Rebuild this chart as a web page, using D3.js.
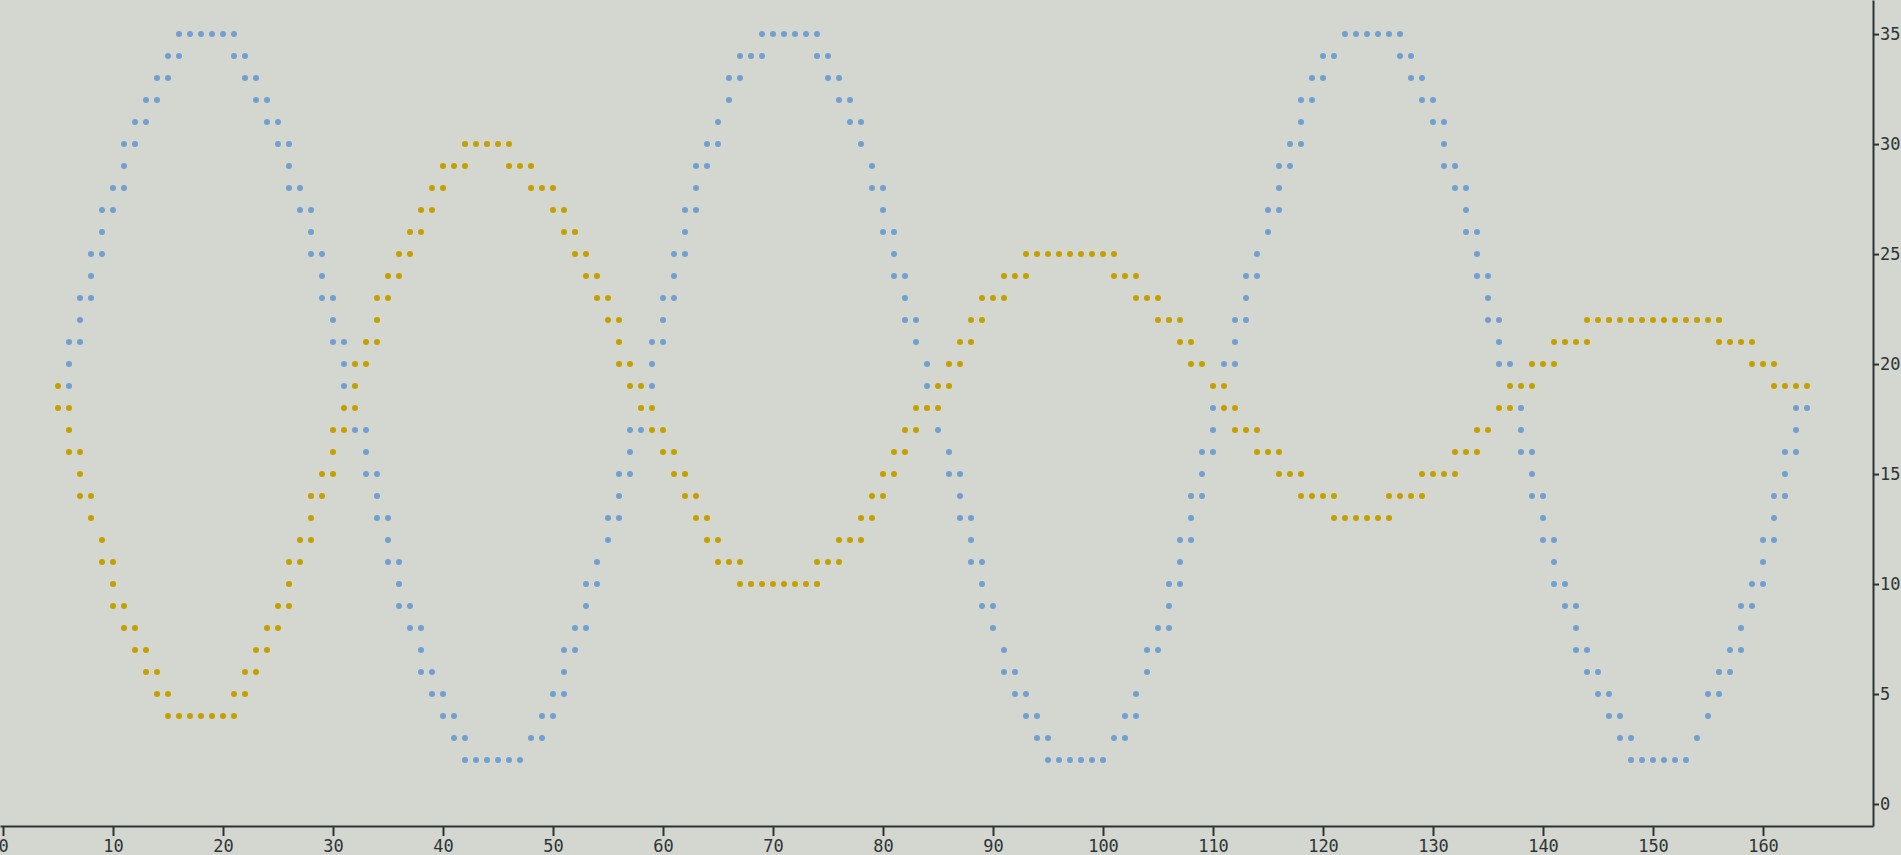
<!DOCTYPE html>
<html>
<head>
<meta charset="utf-8">
<script src="https://cdn.jsdelivr.net/npm/d3@7"></script>
<style>
  html, body { margin: 0; padding: 0; background: #d3d7cf; overflow: hidden; }
  svg { display: block; }
</style>
</head>
<body>
<svg id="chart" width="1901" height="855"></svg>
<script>
// Each entry: [x, [y values of the dots in that column]]
const blueSeries = [
  [6,[19,20,21]],[7,[21,22,23]],[8,[23,24,25]],[9,[25,26,27]],[10,[27,28]],
  [11,[28,29,30]],[12,[30,31]],[13,[31,32]],[14,[32,33]],[15,[33,34]],
  [16,[34,35]],[17,[35]],[18,[35]],[19,[35]],[20,[35]],[21,[35,34]],
  [22,[34,33]],[23,[33,32]],[24,[32,31]],[25,[31,30]],[26,[30,29,28]],
  [27,[28,27]],[28,[27,26,25]],[29,[25,24,23]],[30,[23,22,21]],[31,[21,20,19]],
  [32,[17]],[33,[17,16,15]],[34,[15,14,13]],[35,[13,12,11]],[36,[11,10,9]],
  [37,[9,8]],[38,[8,7,6]],[39,[6,5]],[40,[5,4]],[41,[4,3]],[42,[3,2]],
  [43,[2]],[44,[2]],[45,[2]],[46,[2]],[47,[2]],[48,[3]],[49,[3,4]],[50,[4,5]],
  [51,[5,6,7]],[52,[7,8]],[53,[8,9,10]],[54,[10,11]],[55,[12,13]],
  [56,[13,14,15]],[57,[15,16,17]],[58,[17]],[59,[19,20,21]],[60,[21,22,23]],
  [61,[23,24,25]],[62,[25,26,27]],[63,[27,28,29]],[64,[29,30]],[65,[30,31]],
  [66,[32,33]],[67,[33,34]],[68,[34]],[69,[34,35]],[70,[35]],[71,[35]],
  [72,[35]],[73,[35]],[74,[35,34]],[75,[34,33]],[76,[33,32]],[77,[32,31]],
  [78,[31,30]],[79,[29,28]],[80,[28,27,26]],[81,[26,25,24]],[82,[24,23,22]],
  [83,[22,21]],[84,[20,19]],[85,[17]],[86,[16,15]],[87,[15,14,13]],
  [88,[13,12,11]],[89,[11,10,9]],[90,[9,8]],[91,[7,6]],[92,[6,5]],
  [93,[5,4]],[94,[4,3]],[95,[3,2]],[96,[2]],[97,[2]],[98,[2]],[99,[2]],
  [100,[2]],[101,[3]],[102,[3,4]],[103,[4,5]],[104,[6,7]],[105,[7,8]],
  [106,[8,9,10]],[107,[10,11,12]],[108,[12,13,14]],[109,[14,15,16]],
  [110,[16,17,18]],[111,[20]],[112,[20,21,22]],[113,[22,23,24]],[114,[24,25]],
  [115,[26,27]],[116,[27,28,29]],[117,[29,30]],[118,[30,31,32]],[119,[32,33]],
  [120,[33,34]],[121,[34]],[122,[35]],[123,[35]],[124,[35]],[125,[35]],
  [126,[35]],[127,[35,34]],[128,[34,33]],[129,[33,32]],[130,[32,31]],
  [131,[31,30,29]],[132,[29,28]],[133,[28,27,26]],[134,[26,25,24]],
  [135,[24,23,22]],[136,[22,21,20]],[137,[20]],[138,[18,17,16]],
  [139,[16,15,14]],[140,[14,13,12]],[141,[12,11,10]],[142,[10,9]],
  [143,[9,8,7]],[144,[7,6]],[145,[6,5]],[146,[5,4]],[147,[4,3]],[148,[3,2]],
  [149,[2]],[150,[2]],[151,[2]],[152,[2]],[153,[2]],[154,[3]],[155,[4,5]],
  [156,[5,6]],[157,[6,7]],[158,[7,8,9]],[159,[9,10]],[160,[10,11,12]],
  [161,[12,13,14]],[162,[14,15,16]],[163,[16,17,18]],[164,[18]]
];

const goldSeries = [
  [5,[19,18]],[6,[18,17,16]],[7,[16,15,14]],[8,[14,13]],[9,[12,11]],
  [10,[11,10,9]],[11,[9,8]],[12,[8,7]],[13,[7,6]],[14,[6,5]],[15,[5,4]],
  [16,[4]],[17,[4]],[18,[4]],[19,[4]],[20,[4]],[21,[4,5]],[22,[5,6]],
  [23,[6,7]],[24,[7,8]],[25,[8,9]],[26,[9,10,11]],[27,[11,12]],
  [28,[12,13,14]],[29,[14,15]],[30,[15,16,17]],[31,[17,18]],[32,[18,19,20]],
  [33,[20,21]],[34,[21,22,23]],[35,[23,24]],[36,[24,25]],[37,[25,26]],
  [38,[26,27]],[39,[27,28]],[40,[28,29]],[41,[29]],[42,[29,30]],[43,[30]],
  [44,[30]],[45,[30]],[46,[30,29]],[47,[29]],[48,[29,28]],[49,[28]],
  [50,[28,27]],[51,[27,26]],[52,[26,25]],[53,[25,24]],[54,[24,23]],
  [55,[23,22]],[56,[22,21,20]],[57,[20,19]],[58,[19,18]],[59,[18,17]],
  [60,[17,16]],[61,[16,15]],[62,[15,14]],[63,[14,13]],[64,[13,12]],
  [65,[12,11]],[66,[11]],[67,[11,10]],[68,[10]],[69,[10]],[70,[10]],
  [71,[10]],[72,[10]],[73,[10]],[74,[10,11]],[75,[11]],[76,[11,12]],
  [77,[12]],[78,[12,13]],[79,[13,14]],[80,[14,15]],[81,[15,16]],
  [82,[16,17]],[83,[17,18]],[84,[18]],[85,[18,19]],[86,[19,20]],
  [87,[20,21]],[88,[21,22]],[89,[22,23]],[90,[23]],[91,[23,24]],[92,[24]],
  [93,[24,25]],[94,[25]],[95,[25]],[96,[25]],[97,[25]],[98,[25]],[99,[25]],
  [100,[25]],[101,[25,24]],[102,[24]],[103,[24,23]],[104,[23]],
  [105,[23,22]],[106,[22]],[107,[22,21]],[108,[21,20]],[109,[20]],
  [110,[19]],[111,[19,18]],[112,[18,17]],[113,[17]],[114,[17,16]],
  [115,[16]],[116,[16,15]],[117,[15]],[118,[15,14]],[119,[14]],[120,[14]],
  [121,[14,13]],[122,[13]],[123,[13]],[124,[13]],[125,[13]],[126,[13,14]],
  [127,[14]],[128,[14]],[129,[14,15]],[130,[15]],[131,[15]],[132,[15,16]],
  [133,[16]],[134,[16,17]],[135,[17]],[136,[18]],[137,[18,19]],[138,[19]],
  [139,[19,20]],[140,[20]],[141,[20,21]],[142,[21]],[143,[21]],[144,[21,22]],
  [145,[22]],[146,[22]],[147,[22]],[148,[22]],[149,[22]],[150,[22]],
  [151,[22]],[152,[22]],[153,[22]],[154,[22]],[155,[22]],[156,[22,21]],
  [157,[21]],[158,[21]],[159,[21,20]],[160,[20]],[161,[20,19]],[162,[19]],
  [163,[19]],[164,[19]]
];

const xTicks = [0,10,20,30,40,50,60,70,80,90,100,110,120,130,140,150,160];
const yTicks = [0,5,10,15,20,25,30,35];

const COLORS = { blue: "#729fcf", gold: "#c4a000", axis: "#2e3436", bg: "#d3d7cf" };

const W = 1901, H = 855;
const plotRight = 1873, plotBottom = 826;

const svg = d3.select("#chart");
svg.append("rect").attr("width", W).attr("height", H).attr("fill", COLORS.bg);

const x = d3.scaleLinear().domain([-3/11, 170]).range([0, plotRight]);
const y = d3.scaleLinear().domain([-1, 36.55]).range([plotBottom, 0]);

function flatten(series) {
  const pts = [];
  series.forEach(([xv, ys]) => ys.forEach(yv => pts.push({ x: xv, y: yv })));
  return pts;
}

const gDots = svg.append("g");
[["blue", blueSeries], ["gold", goldSeries]].forEach(([name, s]) => {
  gDots.append("g").selectAll("circle")
    .data(flatten(s))
    .join("circle")
    .attr("cx", d => x(d.x))
    .attr("cy", d => y(d.y))
    .attr("r", 3)
    .attr("fill", COLORS[name]);
});

const xAxis = svg.append("g")
  .attr("transform", `translate(0,${plotBottom})`)
  .call(d3.axisBottom(x).tickValues(xTicks).tickSize(10).tickSizeOuter(0).tickPadding(4));
const yAxis = svg.append("g")
  .attr("transform", `translate(${plotRight},0)`)
  .call(d3.axisRight(y).tickValues(yTicks).tickSize(6).tickSizeOuter(0).tickPadding(1));

[xAxis, yAxis].forEach(g => {
  g.select(".domain").attr("stroke", COLORS.axis).attr("stroke-width", 2);
  g.selectAll(".tick line").attr("stroke", COLORS.axis).attr("stroke-width", 2);
  g.selectAll(".tick text")
    .attr("fill", COLORS.axis)
    .style("font-family", "'DejaVu Sans Mono', monospace")
    .style("font-size", "17px");
});
</script>
</body>
</html>
